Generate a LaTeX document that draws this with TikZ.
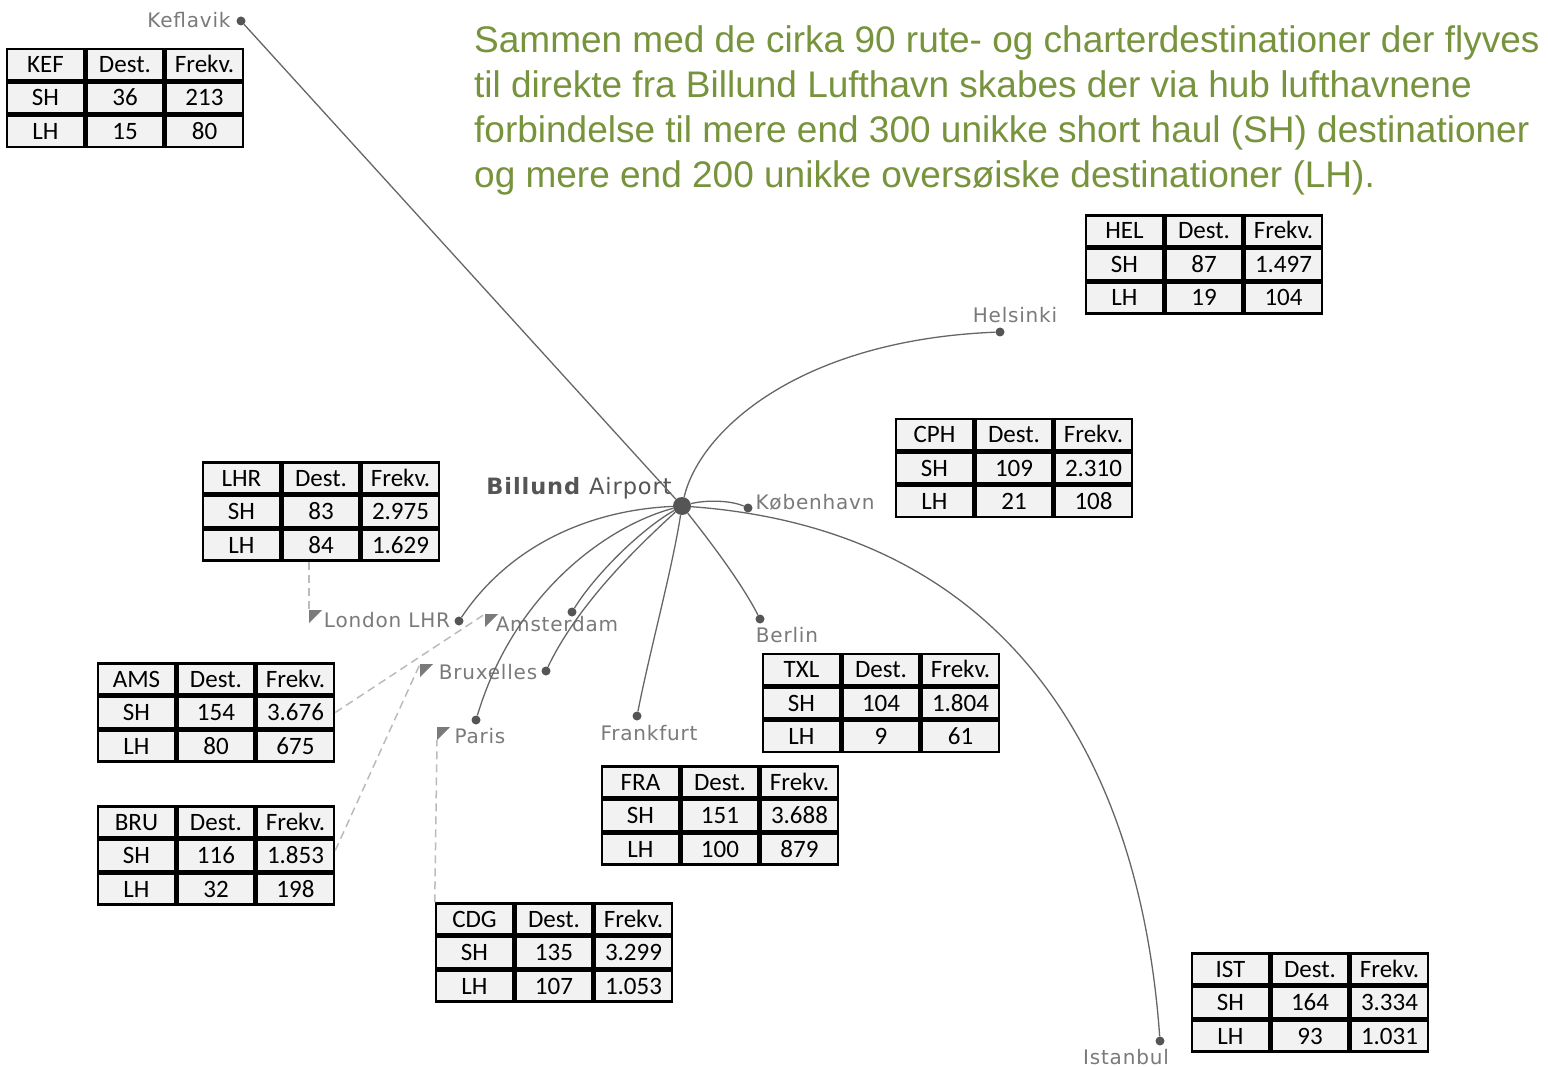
\documentclass[tikz,border=0pt]{standalone}
\usepackage{fontspec}
\setmainfont{Liberation Sans}
\newfontfamily\tabfont{Carlito}
\newfontfamily\cityfont[LetterSpace=4]{DejaVu Sans}
\usetikzlibrary{matrix}
\definecolor{titlegreen}{HTML}{77933C}
\definecolor{routegray}{HTML}{666666}
\definecolor{dotgray}{HTML}{555555}
\definecolor{citygray}{HTML}{7A7A7A}
\definecolor{cellgray}{HTML}{F2F2F2}
\definecolor{dashgray}{HTML}{BBBBBB}
\newcommand{\rutetabel}[7]{%
  \matrix (#1) at (#2) [table node] {#3 \& Dest. \& Frekv. \\ SH \& #4 \& #5 \\ LH \& #6 \& #7 \\};}
\newcommand{\hubmark}[1]{\fill[markgray] (#1) -- ++(13,0) -- ++(-13,13) -- cycle;}

\begin{document}
\begin{tikzpicture}[x=1pt,y=-1pt,
    markgray/.style={fill=citygray},
    rute/.style={draw=routegray,line width=1.3pt},
    forbindelse/.style={draw=dashgray,line width=1.5pt,dash pattern=on 8pt off 5pt},
    stop node/.style={circle,fill=dotgray,inner sep=0pt,minimum size=9pt},
    hub node/.style={circle,fill=dotgray,inner sep=0pt,minimum size=18pt},
    city node/.style={font=\cityfont\fontsize{20}{20}\selectfont,text=citygray,
      inner sep=0pt,text height=14.6pt,text depth=0pt},
    table node/.style={matrix of nodes,ampersand replacement=\&,inner sep=0pt,outer sep=0pt,
      column sep=0pt,row sep=0pt,
      nodes={draw,line width=2.5pt,fill=cellgray,minimum width=77pt,minimum height=31pt,
        inner sep=0pt,outer sep=0pt,text height=16pt,text depth=0pt,
        font=\tabfont\fontsize{25}{25}\selectfont}}]
  \path[use as bounding box,fill=white] (0,0) rectangle (1548,1067);

  % text
  \node[anchor=north west,inner sep=0pt,align=left,text=titlegreen,
    font=\fontsize{37}{45}\selectfont] (intro) at (474,25)
    {Sammen med de cirka 90 rute- og charterdestinationer der flyves\\
     til direkte fra Billund Lufthavn skabes der via hub lufthavnene\\
     forbindelse til mere end 300 unikke short haul (SH) destinationer\\
     og mere end 200 unikke oversøiske destinationer (LH).};

  % airports
  \node[hub node] (billund) at (682,506) {};
  \node[stop node] (keflavik) at (241,21) {};
  \node[stop node] (helsinki) at (1000,332) {};
  \node[stop node] (kobenhavn) at (748,508) {};
  \node[stop node] (berlin) at (760,619) {};
  \node[stop node] (frankfurt) at (637,716) {};
  \node[stop node] (bruxelles) at (546,671) {};
  \node[stop node] (amsterdam) at (572,612) {};
  \node[stop node] (london) at (459,621) {};
  \node[stop node] (paris) at (476,720) {};
  \node[stop node] (istanbul) at (1160,1041) {};

  \node[city node,text=dotgray,font=\cityfont\fontsize{22.5}{22.5}\selectfont,text height=16.4pt]
    (billundLbl) at (579,486) {\textbf{Billund} Airport};
  \node[city node] (keflavikLbl) at (189,20) {Keflavik};
  \node[city node] (helsinkiLbl) at (1015,315) {Helsinki};
  \node[city node] (kobenhavnLbl) at (815,502) {København};
  \node[city node] (berlinLbl) at (787,635) {Berlin};
  \node[city node] (frankfurtLbl) at (649,733) {Frankfurt};
  \node[city node] (bruxellesLbl) at (488,672) {Bruxelles};
  \node[city node] (amsterdamLbl) at (557,624) {Amsterdam};
  \node[city node] (londonLbl) at (387,620) {London LHR};
  \node[city node] (parisLbl) at (480,736) {Paris};
  \node[city node] (istanbulLbl) at (1126,1057) {Istanbul};

  % routes
  \draw[rute] (billund) -- (keflavik);
  \draw[rute] (billund) .. controls (700,430) and (800,340) .. (helsinki);
  \draw[rute] (billund) .. controls (705,500) and (730,500) .. (kobenhavn);
  \draw[rute] (billund) .. controls (1010,530) and (1140,760) .. (istanbul);
  \draw[rute] (billund) .. controls (705,535) and (740,580) .. (berlin);
  \draw[rute] (billund) .. controls (672,570) and (650,650) .. (frankfurt);
  \draw[rute] (billund) .. controls (590,510) and (510,545) .. (london);
  \draw[rute] (billund) .. controls (610,525) and (515,590) .. (paris);
  \draw[rute] (billund) .. controls (640,530) and (595,575) .. (amsterdam);
  \draw[rute] (billund) .. controls (645,540) and (580,600) .. (bruxelles);

  % tables
  \rutetabel{kefTab}{125,98}{KEF}{36}{213}{15}{80}
  \rutetabel{helTab}{1204,264.5}{HEL}{87}{1.497}{19}{104}
  \rutetabel{cphTab}{1014,468}{CPH}{109}{2.310}{21}{108}
  \rutetabel{lhrTab}{321,511.5}{LHR}{83}{2.975}{84}{1.629}
  \rutetabel{amsTab}{216,712.5}{AMS}{154}{3.676}{80}{675}
  \rutetabel{bruTab}{216,855.5}{BRU}{116}{1.853}{32}{198}
  \rutetabel{txlTab}{881,703}{TXL}{104}{1.804}{9}{61}
  \rutetabel{fraTab}{720,815.5}{FRA}{151}{3.688}{100}{879}
  \rutetabel{cdgTab}{554,952.5}{CDG}{135}{3.299}{107}{1.053}
  \rutetabel{istTab}{1310,1002.5}{IST}{164}{3.334}{93}{1.031}

  % hub markers
  \coordinate (londonMark) at (309,610);
  \coordinate (amsterdamMark) at (485,614);
  \coordinate (bruxellesMark) at (420,664);
  \coordinate (parisMark) at (437,727);
  \hubmark{londonMark}
  \hubmark{amsterdamMark}
  \hubmark{bruxellesMark}
  \hubmark{parisMark}
  \draw[forbindelse] (lhrTab.south -| londonMark) -- (londonMark);
  \draw[forbindelse] (amsTab.east) -- (amsterdamMark);
  \draw[forbindelse] ([yshift=5pt]bruTab.east) -- (bruxellesMark);
  \draw[forbindelse] (cdgTab.north west) -- ([yshift=-13pt]parisMark);
\end{tikzpicture}
\end{document}
